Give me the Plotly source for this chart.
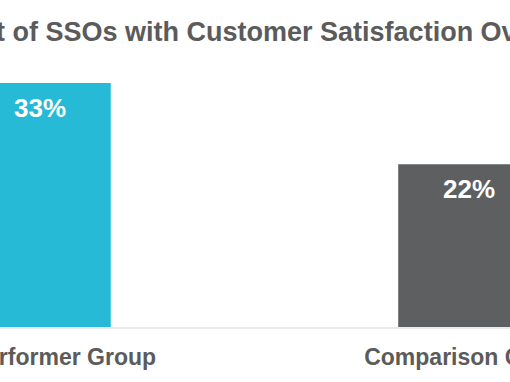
import plotly.graph_objects as go

# Data
categories = ["Top Performer Group", "Comparison Group"]
values = [33, 22]
value_labels = ["33%", "22%"]
bar_colors = ["#26BAD6", "#5E5F61"]
title_text = "Percent of SSOs with Customer Satisfaction Over 90%"

TEXT_GRAY = "#5B5B5B"
FONT = "Liberation Sans, Arial, sans-serif"

fig = go.Figure()
fig.add_trace(go.Bar(
    x=categories,
    y=values,
    marker=dict(color=bar_colors, line=dict(width=0)),
    width=0.33,
    hoverinfo="skip",
))

annotations = []
for c, v, lab in zip(categories, values, value_labels):
    annotations.append(dict(
        x=c, y=v, xref="x", yref="y",
        text=f"<b>{lab}</b>",
        showarrow=False,
        xanchor="center", yanchor="middle",
        yshift=-25,
        font=dict(family=FONT, size=26, color="white"),
    ))

annotations.append(dict(
    x=-0.189, y=1.103, xref="paper", yref="paper",
    text=f"<b>{title_text}</b>",
    showarrow=False,
    xanchor="left", yanchor="middle",
    font=dict(family=FONT, size=27, color=TEXT_GRAY),
))

fig.update_layout(
    width=510, height=382,
    margin=dict(l=0, r=0, t=60, b=55, pad=0),
    paper_bgcolor="white",
    plot_bgcolor="white",
    showlegend=False,
    annotations=annotations,
    xaxis=dict(
        type="category",
        range=[-0.0932, 1.0956],
        showgrid=False,
        zeroline=False,
        showline=True,
        linecolor="#EAEAEA",
        linewidth=2,
        ticks="",
        ticklabelstandoff=8,
        tickfont=dict(family=FONT, size=23, color=TEXT_GRAY, weight="bold"),
        automargin=False,
        fixedrange=True,
    ),
    yaxis=dict(
        range=[0, 36.11],
        visible=False,
        showgrid=False,
        zeroline=False,
        fixedrange=True,
    ),
)

fig.write_html(
    "out.html",
    config={"displayModeBar": False},
    post_script="document.body.style.margin='0px';",
)
